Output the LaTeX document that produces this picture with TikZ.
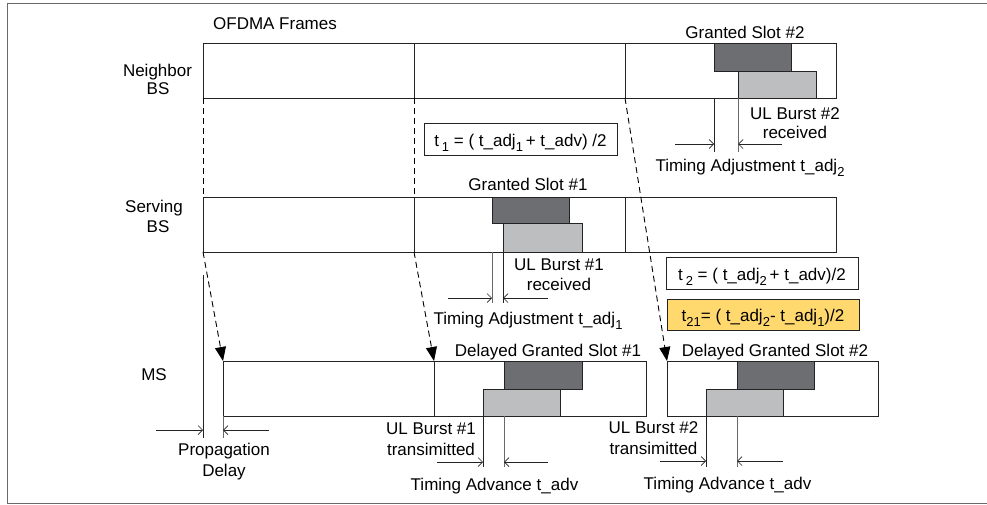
\documentclass[tikz,border=0pt]{standalone}
\usepackage{fontspec}
\setmainfont{Liberation Sans}
\usetikzlibrary{arrows.meta}
\definecolor{darkslot}{RGB}{109,110,113}
\definecolor{lightslot}{RGB}{188,190,192}
\definecolor{eqyellow}{RGB}{255,216,110}
\definecolor{lineblk}{RGB}{35,35,35}
\definecolor{linegray}{RGB}{105,105,105}
\newcommand\subs[1]{\raisebox{-5pt}{\fontsize{13}{13}\selectfont #1}}
\begin{document}
\begin{tikzpicture}[x=1pt,y=-1pt,
  lbl/.style={font=\fontsize{17}{20}\selectfont, inner sep=0pt, anchor=base},
  frame/.style={draw=lineblk, line width=0.9pt, inner sep=0pt, outer sep=0pt, anchor=north west, minimum height=55pt},
  dslot/.style={draw=lineblk, fill=darkslot, line width=0.9pt, inner sep=0pt, outer sep=0pt, anchor=north west, minimum width=77pt, minimum height=28pt},
  lslot/.style={draw=lineblk, fill=lightslot, line width=0.9pt, inner sep=0pt, outer sep=0pt, anchor=north west, minimum width=78pt, minimum height=27pt},
  markblk/.style={line width=0.9pt, draw=lineblk},
  markgray/.style={line width=0.9pt, draw=linegray},
  dim/.style={line width=0.7pt, draw=lineblk, -{Straight Barb[length=4.5pt,width=9pt]}},
  prop/.style={line width=0.9pt, dash pattern=on 6pt off 4pt, draw=black},
  proparrow/.style={prop, -{Triangle[length=14pt,width=11pt]}},
  eqbox/.style={draw=lineblk, line width=0.9pt, inner sep=0pt, outer sep=0pt, minimum width=192pt, minimum height=32pt, text height=14.5pt, text depth=0pt, font=\fontsize{17}{20}\selectfont}
]
\useasboundingbox (0,0) rectangle (987,504);
\draw[linegray, line width=1pt] (990,3) -- (7,3) -- (7,503) -- (990,503);

% labels on the left
\node[lbl] (ofdma) at (275,29) {OFDMA Frames};
\node[lbl] (nbA) at (157.5,76) {Neighbor};
\node[lbl] (nbB) at (158,94.5) {BS};
\node[lbl] (svA) at (154,212) {Serving};
\node[lbl] (svB) at (158,232) {BS};
\node[lbl] (msA) at (154,380) {MS};

% frames
\node[frame, minimum width=211pt] (nb1) at (203,43) {};
\node[frame, minimum width=211pt] (nb2) at (414,43) {};
\node[frame, minimum width=211pt] (nb3) at (625,43) {};
\node[frame, minimum width=211pt] (sv1) at (203,197) {};
\node[frame, minimum width=211pt] (sv2) at (414,197) {};
\node[frame, minimum width=211pt] (sv3) at (625,197) {};
\node[frame, minimum width=211pt] (ms1) at (223,361) {};
\node[frame, minimum width=212pt] (ms2) at (434,361) {};
\node[frame, minimum width=211pt] (ms3) at (667,361) {};

% slots
\node[dslot] (gs2d) at (714,43) {};
\node[lslot] (gs2l) at (738,71) {};
\node[dslot, minimum height=26pt] (gs1d) at (492,197) {};
\node[lslot, minimum width=79pt, minimum height=29pt] (gs1l) at (503,223) {};
\node[dslot, minimum width=78pt] (dg1d) at (504,361) {};
\node[lslot, minimum width=77pt] (dg1l) at (483,389) {};
\node[dslot] (dg2d) at (737,361) {};
\node[lslot, minimum width=77pt] (dg2l) at (706,389) {};

% slot labels
\node[lbl] (gs2t) at (745,38.5) {Granted Slot \#2};
\node[lbl] (gs1t) at (528,190) {Granted Slot \#1};
\node[lbl] (dg1t) at (548,356.7) {Delayed Granted Slot \#1};
\node[lbl] (dg2t) at (775,356.7) {Delayed Granted Slot \#2};

% propagation dashed arrows
\draw[prop] (nb1.south west) -- (sv1.north west);
\draw[prop] (nb2.south west) -- (sv2.north west);
\draw[proparrow] (sv1.south west) -- (ms1.north west);
\draw[proparrow] (sv2.south west) -- (ms2.north west);
\draw[proparrow] (nb3.south west) -- (ms3.north west);

% neighbor: timing adjustment 2
\coordinate (n2a) at (714,152);
\coordinate (n2b) at (738,152);
\draw[markblk] (gs2d.south west |- nb3.south) -- (n2a);
\draw[markgray] (gs2l.south west) -- (n2b);
\coordinate (n2al) at (675,144); \coordinate (n2at) at (714,144);
\coordinate (n2br) at (782,144); \coordinate (n2bt) at (738,144);
\draw[dim] (n2al) -- (n2at);
\draw[dim] (n2br) -- (n2bt);
\node[lbl] (ul2rA) at (795,119) {UL Burst \#2};
\node[lbl] (ul2rB) at (795,138.5) {received};
\node[lbl] (ta2) at (750,171.7) {Timing Adjustment t\_adj\subs{2}};

% equation boxes
\node[eqbox, minimum width=193pt] (eq1) at (520.5,139) {t\,\subs{1} = ( t\_adj\subs{1}\,+ t\_adv) /2};
\node[eqbox] (eq2) at (762,273) {t\,\subs{2} = ( t\_adj\subs{2}\,+ t\_adv)/2};
\node[eqbox, fill=eqyellow, minimum height=31pt] (eq21) at (763,314.5) {t\subs{21}= ( t\_adj\subs{2}- t\_adj\subs{1})/2};

% serving: timing adjustment 1
\coordinate (s1a) at (492,303);
\coordinate (s1b) at (503,303);
\draw[markgray] (gs1d.west |- sv1.south) -- (s1a);
\draw[markblk] (gs1l.south west) -- (s1b);
\coordinate (s1al) at (448,298); \coordinate (s1at) at (492,298);
\coordinate (s1br) at (548,298); \coordinate (s1bt) at (503,298);
\draw[dim] (s1al) -- (s1at);
\draw[dim] (s1br) -- (s1bt);
\node[lbl] (ul1rA) at (559,270.7) {UL Burst \#1};
\node[lbl] (ul1rB) at (559,290.5) {received};
\node[lbl] (ta1) at (528,324) {Timing Adjustment t\_adj\subs{1}};

% MS slot 1: timing advance
\coordinate (m1a) at (483,467);
\coordinate (m1b) at (504,467);
\draw[markblk] (dg1l.south west) -- (m1a);
\draw[markgray] (dg1d.west |- dg1l.south) -- (m1b);
\coordinate (m1al) at (437,462); \coordinate (m1at) at (483,462);
\coordinate (m1br) at (548,462); \coordinate (m1bt) at (504,462);
\draw[dim] (m1al) -- (m1at);
\draw[dim] (m1br) -- (m1bt);
\node[lbl] (ul1tA) at (431,434) {UL Burst \#1};
\node[lbl] (ul1tB) at (431,455.7) {transimitted};
\node[lbl] (tv1) at (494.5,490) {Timing Advance t\_adv};

% MS slot 2: timing advance
\coordinate (m2a) at (706,467);
\coordinate (m2b) at (737,467);
\draw[markblk] (dg2l.south west) -- (m2a);
\draw[markgray] (dg2d.west |- dg2l.south) -- (m2b);
\coordinate (m2al) at (660,461); \coordinate (m2at) at (706,461);
\coordinate (m2br) at (783,461); \coordinate (m2bt) at (737,461);
\draw[dim] (m2al) -- (m2at);
\draw[dim] (m2br) -- (m2bt);
\node[lbl] (ul2tA) at (653.5,433) {UL Burst \#2};
\node[lbl] (ul2tB) at (653.5,454) {transimitted};
\node[lbl] (tv2) at (727.5,489) {Timing Advance t\_adv};

% propagation delay
\coordinate (pdtop) at (203,275);
\coordinate (pdbot) at (203,438);
\coordinate (pdms) at (223,438);
\draw[markblk] (pdtop) -- (pdbot);
\draw[markgray] (ms1.south west) -- (pdms);
\coordinate (pdal) at (156,430); \coordinate (pdat) at (203,430);
\coordinate (pdbr) at (269,430); \coordinate (pdbt) at (223,430);
\draw[dim] (pdal) -- (pdat);
\draw[dim] (pdbr) -- (pdbt);
\node[lbl] (pdA) at (224,455) {Propagation};
\node[lbl] (pdB) at (224,476) {Delay};
\end{tikzpicture}
\end{document}
